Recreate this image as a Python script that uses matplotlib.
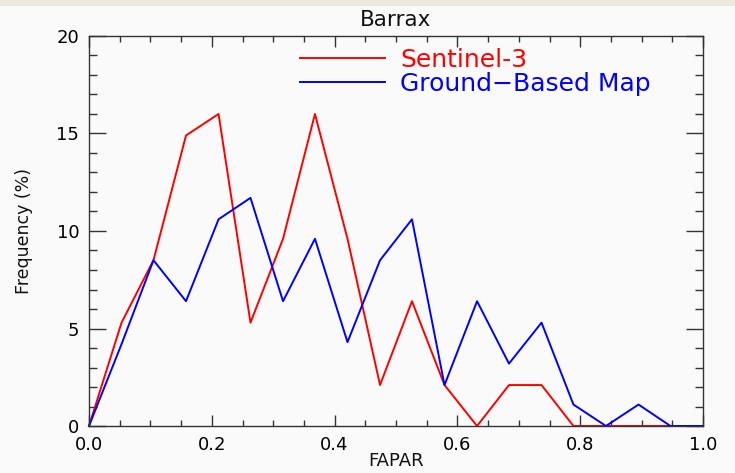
import matplotlib
matplotlib.use("Agg")
import matplotlib.pyplot as plt
from matplotlib.patches import Rectangle
from matplotlib.ticker import MultipleLocator

fapar = [0.0, 0.053, 0.105, 0.158, 0.211, 0.263, 0.316, 0.368, 0.421, 0.474,
         0.526, 0.579, 0.632, 0.684, 0.737, 0.789, 0.842, 0.895, 0.947, 1.0]
sentinel3 = [0.0, 5.3, 8.5, 14.9, 16.0, 5.3, 9.6, 16.0, 9.6, 2.1,
             6.4, 2.1, 0.0, 2.1, 2.1, 0.0, 0.0, 0.0, 0.0, 0.0]
ground = [0.0, 4.2, 8.5, 6.4, 10.6, 11.7, 6.4, 9.6, 4.3, 8.5,
          10.6, 2.1, 6.4, 3.2, 5.3, 1.1, 0.0, 1.1, 0.0, 0.0]
series_labels = ["Sentinel-3", "Ground\u2212Based Map"]
title = "Barrax"
xlabel = "FAPAR"
ylabel = "Frequency (%)"

plt.rcParams['font.family'] = ['DejaVu Sans']

W, H = 735, 473
fig = plt.figure(figsize=(W / 100, H / 100), dpi=100, facecolor="#FAFAFA")
fig.patches.append(Rectangle((0, 1 - 6 / H), 1, 6 / H, transform=fig.transFigure,
                             facecolor="#ECE9DE", edgecolor="none", zorder=0))

ax = fig.add_axes([89 / W, 1 - 426 / H, (703 - 89) / W, (426 - 36) / H])
ax.set_facecolor("#FAFAFA")

ax.plot(fapar, sentinel3, color="#FF0000", lw=1.4, label=series_labels[0], clip_on=False)
ax.plot(fapar, ground, color="#0000FF", lw=1.4, label=series_labels[1], clip_on=False)

ax.set_xlim(0, 1)
ax.set_ylim(0, 20)
ax.xaxis.set_major_locator(MultipleLocator(0.2))
ax.xaxis.set_minor_locator(MultipleLocator(0.05))
ax.yaxis.set_major_locator(MultipleLocator(5))
ax.yaxis.set_minor_locator(MultipleLocator(1))
ax.xaxis.set_major_formatter(matplotlib.ticker.FormatStrFormatter("%.1f"))

for s in ax.spines.values():
    s.set_color("#333333")
    s.set_linewidth(1.0)

ax.tick_params(axis="x", which="major", direction="in", length=8, width=1,
               color="#333333", top=True, labelsize=13, pad=7)
ax.tick_params(axis="x", which="minor", direction="in", length=4, width=1,
               color="#333333", top=True)
ax.tick_params(axis="y", which="major", direction="in", length=12, width=1,
               color="#333333", right=True, labelsize=13, pad=7)
ax.tick_params(axis="y", which="minor", direction="in", length=6, width=1,
               color="#333333", right=True)

ax.set_title(title, fontsize=15.5, pad=7, color="#111111")
ax.set_xlabel(xlabel, fontsize=13, labelpad=-1, color="#111111")
ax.set_ylabel(ylabel, fontsize=12.5, labelpad=17, color="#111111")

leg = ax.legend(loc="upper left", bbox_to_anchor=(300 / W, 1 - 48 / H),
                bbox_transform=fig.transFigure, frameon=False,
                fontsize=18, handlelength=3.4, handletextpad=0.6,
                labelspacing=0.0, borderpad=0, borderaxespad=0,
                labelcolor="linecolor")

fig.savefig("out.png", dpi=100, facecolor=fig.get_facecolor())
